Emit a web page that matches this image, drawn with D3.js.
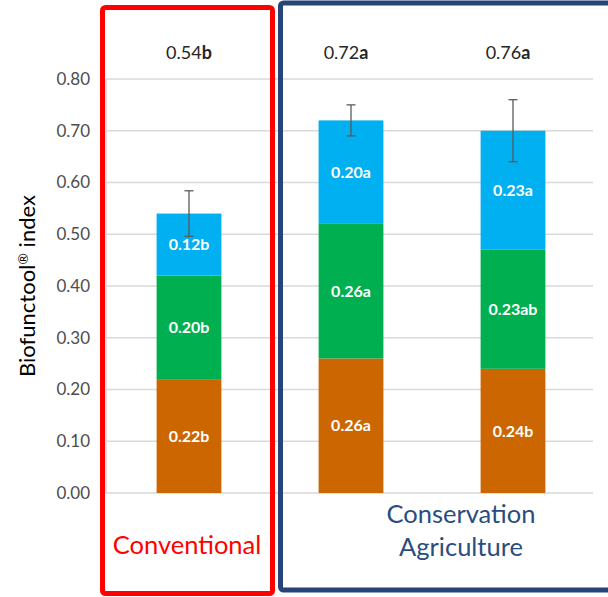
<!DOCTYPE html>
<html>
<head>
<meta charset="utf-8">
<script src="https://cdn.jsdelivr.net/npm/d3@7"></script>
<style>
  html, body { margin: 0; padding: 0; background: #fff; }
  svg { display: block; }
</style>
</head>
<body>
<svg id="chart" width="608" height="597"></svg>
<script>
// Biofunctool® index: three stacked soil-function scores per system
const categories = ["Conventional", "CA-1", "CA-2"];
const seriesKeys = ["fn1", "fn2", "fn3"];
const seriesColors = ["#CC6600", "#00B050", "#00B0F0"];
const fn1Values = [0.22, 0.26, 0.24];
const fn1Letters = ["b", "a", "b"];
const fn2Values = [0.20, 0.26, 0.23];
const fn2Letters = ["b", "a", "ab"];
const fn3Values = [0.12, 0.20, 0.23];
const fn3Letters = ["b", "a", "a"];
const totalLabels = ["0.54", "0.72", "0.76"];
const totalLetters = ["b", "a", "a"];
const errorValues = [0.044, 0.03, 0.06];
const yTicks = [0, 0.1, 0.2, 0.3, 0.4, 0.5, 0.6, 0.7, 0.8];

const rows = categories.map((c, i) => ({
  cat: c, fn1: fn1Values[i], fn2: fn2Values[i], fn3: fn3Values[i],
  letters: { fn1: fn1Letters[i], fn2: fn2Letters[i], fn3: fn3Letters[i] }
}));

const svg = d3.select("#chart");
const font = "Lato, 'Open Sans', sans-serif";

const x = d3.scaleBand().domain(categories).range([108, 594])
  .paddingInner(0.6).paddingOuter(0.3);
const y = d3.scaleLinear().domain([0, 0.8]).range([493, 79]);

// gridlines
svg.append("g").selectAll("line").data(yTicks).join("line")
  .attr("x1", 106).attr("x2", 593)
  .attr("y1", d => y(d)).attr("y2", d => y(d))
  .attr("stroke", "#D9D9D9").attr("stroke-width", 1.5);
svg.append("line").attr("x1", 106).attr("x2", 106)
  .attr("y1", y(0.8)).attr("y2", y(0))
  .attr("stroke", "#D9D9D9").attr("stroke-width", 1.5);

// y axis labels
const yAxis = svg.append("g").attr("transform", "translate(100,0)")
  .call(d3.axisLeft(y).tickValues(yTicks).tickFormat(d3.format(".2f")).tickSize(0).tickPadding(10));
yAxis.select(".domain").remove();
yAxis.selectAll("text").attr("font-family", font).attr("font-size", 17)
  .attr("fill", "#4D4D4D");

const yTitle = svg.append("text")
  .attr("transform", `translate(35,${y(0.4)}) rotate(-90)`)
  .attr("text-anchor", "middle")
  .attr("font-family", font).attr("font-size", 22).attr("fill", "#000");
yTitle.append("tspan").text("Biofunctool");
yTitle.append("tspan").attr("font-size", 14).attr("dy", -7).text("®");
yTitle.append("tspan").attr("dy", 7).text(" index");

// stacked bars
const stacked = d3.stack().keys(seriesKeys)(rows);
const layers = svg.append("g").selectAll("g").data(stacked).join("g")
  .attr("fill", (d, i) => seriesColors[i]);
layers.selectAll("rect").data(d => d.map(s => ({ s, key: d.key }))).join("rect")
  .attr("x", d => x(d.s.data.cat))
  .attr("width", x.bandwidth())
  .attr("y", d => y(d.s[1]))
  .attr("height", d => y(d.s[0]) - y(d.s[1]));
layers.selectAll("text").data(d => d.map(s => ({ s, key: d.key }))).join("text")
  .attr("x", d => x(d.s.data.cat) + x.bandwidth() / 2)
  .attr("y", d => (y(d.s[0]) + y(d.s[1])) / 2)
  .attr("dy", "0.36em")
  .attr("text-anchor", "middle")
  .attr("font-family", font).attr("font-size", 16).attr("font-weight", "bold")
  .attr("fill", "#fff")
  .text(d => d3.format(".2f")(d.s[1] - d.s[0]) + d.s.data.letters[d.key]);

// error bars on stack tops
const topLayer = stacked[stacked.length - 1];
const eb = svg.append("g").attr("stroke", "#5A5A5A").attr("stroke-width", 1.3);
topLayer.forEach((s, i) => {
  const cx = x(s.data.cat) + x.bandwidth() / 2;
  const hi = y(s[1] + errorValues[i]), lo = y(s[1] - errorValues[i]);
  eb.append("line").attr("x1", cx).attr("x2", cx).attr("y1", hi).attr("y2", lo);
  eb.append("line").attr("x1", cx - 4.5).attr("x2", cx + 4.5).attr("y1", hi).attr("y2", hi);
  eb.append("line").attr("x1", cx - 4.5).attr("x2", cx + 4.5).attr("y1", lo).attr("y2", lo);
});

// totals above bars
const totals = svg.append("g").selectAll("text").data(categories).join("text")
  .attr("x", (d, i) => x(d) + x.bandwidth() / 2 - (i === 0 ? 0 : 5))
  .attr("y", 59)
  .attr("text-anchor", "middle")
  .attr("font-family", font).attr("font-size", 18).attr("fill", "#262626");
totals.append("tspan").text((d, i) => totalLabels[i]);
totals.append("tspan").attr("font-weight", "bold").text((d, i) => totalLetters[i]);

// system group frames
svg.append("rect").attr("x", 102.5).attr("y", 7.5).attr("width", 170).attr("height", 586)
  .attr("rx", 3).attr("fill", "none").attr("stroke", "#FF0000").attr("stroke-width", 5);
svg.append("rect").attr("x", 280.5).attr("y", 3).attr("width", 340).attr("height", 587)
  .attr("rx", 3).attr("fill", "none").attr("stroke", "#264478").attr("stroke-width", 5);

svg.append("text").attr("x", 187).attr("y", 554).attr("text-anchor", "middle")
  .attr("font-family", font).attr("font-size", 25.5).attr("fill", "#FF0000")
  .text("Conventional");
const ca = svg.append("text").attr("text-anchor", "middle")
  .attr("font-family", font).attr("font-size", 25.5).attr("fill", "#2A4D80");
ca.append("tspan").attr("x", 461).attr("y", 523).text("Conservation");
ca.append("tspan").attr("x", 461).attr("y", 556).text("Agriculture");
</script>
</body>
</html>
